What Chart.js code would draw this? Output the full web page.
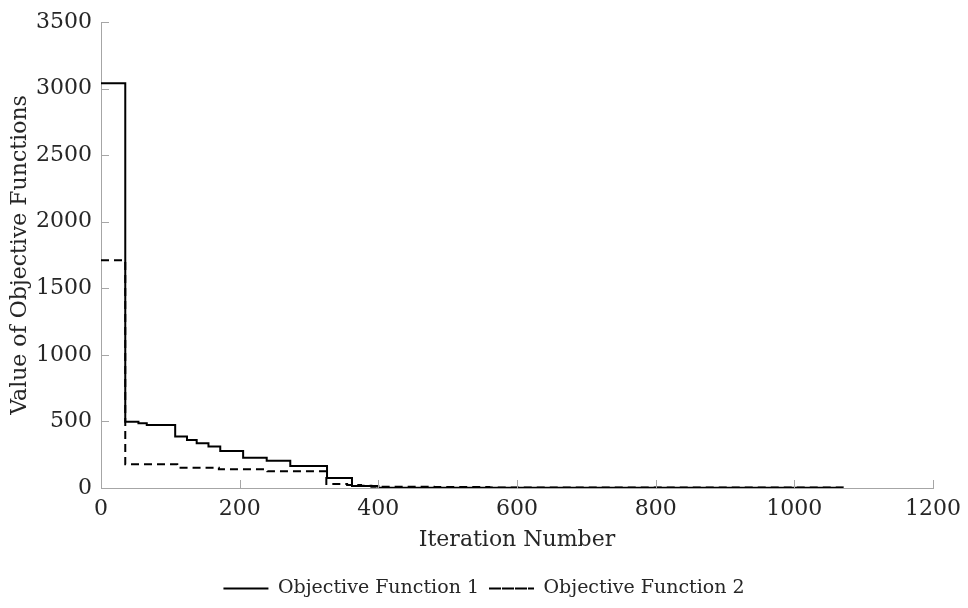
<!DOCTYPE html>
<html>
<head>
<meta charset="utf-8">
<script src="https://cdn.jsdelivr.net/npm/chart.js@4/dist/chart.umd.min.js"></script>
<style>
  html, body { margin: 0; padding: 0; background: #ffffff; }
  #wrap { width: 968px; height: 608px; position: relative; }
</style>
</head>
<body>
<div id="wrap"><canvas id="c" width="968" height="608"></canvas></div>
<script>
// Objective Function 1: iteration where a new value starts, and that value
const iter1 = [0, 35, 54, 66, 107, 124, 138, 155, 172, 205, 239, 273, 326, 362, 400, 1070];
const obj1  = [3040, 498, 486, 473, 386, 361, 336, 311, 278, 228, 205, 165, 75, 15, 2, 2];

// Objective Function 2
const iter2 = [0, 35, 110, 170, 240, 325, 355, 375, 390, 480, 560, 1070];
const obj2  = [1710, 178, 152, 140, 125, 30, 22, 17, 10, 7, 3, 2];

const xTicks = [0, 200, 400, 600, 800, 1000, 1200];
const yTicks = [0, 500, 1000, 1500, 2000, 2500, 3000, 3500];

const seriesNames = ['Objective Function 1', 'Objective Function 2'];
const xTitle = 'Iteration Number';
const yTitle = 'Value of Objective Functions';

const FONT = 'DejaVu Serif';
const FS = 22;
const LFS = 19;
const TEXT = '#262626';
const AXIS = '#a6a6a6';

function pts(xs, ys) { return xs.map((x, i) => ({ x: x, y: ys[i] })); }

// inward tick marks drawn from the scales' own ticks
const inwardTicks = {
  id: 'inwardTicks',
  afterDatasetsDraw(chart) {
    const ctx = chart.ctx;
    const xs = chart.scales.x, ys = chart.scales.y;
    const L = 8;
    ctx.save();
    ctx.strokeStyle = AXIS;
    ctx.lineWidth = 1;
    ctx.beginPath();
    xs.ticks.forEach(t => {
      const px = Math.round(xs.getPixelForValue(t.value)) + 0.5;
      ctx.moveTo(px, ys.bottom);
      ctx.lineTo(px, ys.bottom - L);
    });
    ys.ticks.forEach(t => {
      const py = Math.round(ys.getPixelForValue(t.value)) + 0.5;
      ctx.moveTo(xs.left, py);
      ctx.lineTo(xs.left + L, py);
    });
    ctx.stroke();
    ctx.restore();
  }
};

new Chart(document.getElementById('c'), {
  type: 'line',
  data: {
    datasets: [
      {
        label: seriesNames[0],
        data: pts(iter1, obj1),
        stepped: true,
        borderColor: '#000000',
        backgroundColor: 'rgba(0,0,0,0)',
        borderWidth: 2,
        pointRadius: 0,
        fill: false
      },
      {
        label: seriesNames[1],
        data: pts(iter2, obj2),
        stepped: true,
        borderColor: '#000000',
        backgroundColor: 'rgba(0,0,0,0)',
        borderWidth: 2,
        borderDash: [8, 5],
        pointRadius: 0,
        fill: false
      }
    ]
  },
  plugins: [inwardTicks],
  options: {
    responsive: false,
    animation: false,
    layout: { padding: { left: 35, right: 35, top: 22, bottom: 0 } },
    plugins: {
      tooltip: { enabled: false },
      legend: {
        position: 'bottom',
        labels: {
          font: { family: FONT, size: LFS },
          color: TEXT,
          boxWidth: 45,
          boxHeight: 0,
          padding: 10
        }
      }
    },
    scales: {
      x: {
        type: 'linear',
        min: 0, max: 1200,
        afterBuildTicks: s => { s.ticks = xTicks.map(v => ({ value: v })); },
        afterFit: s => { s.height = 81; s.paddingLeft = 0; s.paddingRight = 0; },
        border: { display: true, color: AXIS, width: 1 },
        grid: { display: false, drawOnChartArea: false, drawTicks: false },
        ticks: { font: { family: FONT, size: FS }, color: TEXT, padding: 8, maxRotation: 0,
                 callback: v => String(v) },
        title: { display: true, text: xTitle, font: { family: FONT, size: FS }, color: TEXT, padding: { top: 0, bottom: 16 } }
      },
      y: {
        type: 'linear',
        min: 0, max: 3500,
        afterBuildTicks: s => { s.ticks = yTicks.map(v => ({ value: v })); },
        afterFit: s => { s.width = 66; s.paddingTop = 0; s.paddingBottom = 0; },
        border: { display: true, color: AXIS, width: 1 },
        grid: { display: false, drawOnChartArea: false, drawTicks: false },
        ticks: { font: { family: FONT, size: FS }, color: TEXT, padding: 9,
                 callback: v => String(v) },
        title: { display: true, text: yTitle, font: { family: FONT, size: FS }, color: TEXT, padding: { top: -28, bottom: 0 } }
      }
    }
  }
});
</script>
</body>
</html>
